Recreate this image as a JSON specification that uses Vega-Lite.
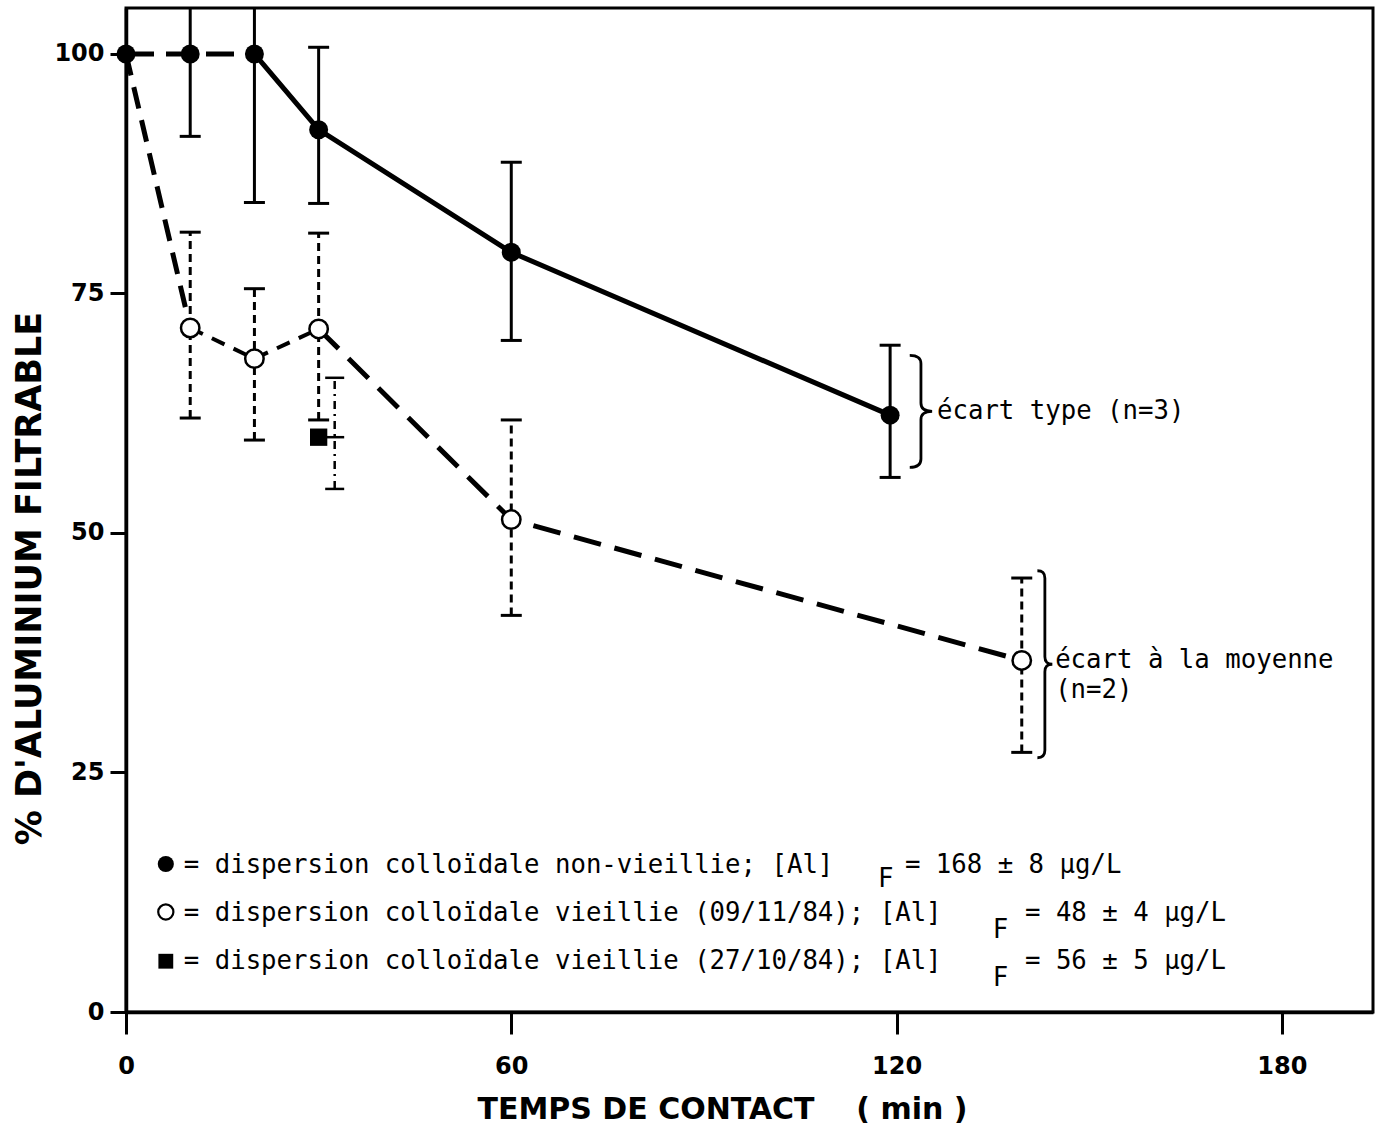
{
  "$schema": "https://vega.github.io/schema/vega-lite/v6.json",
  "width": 1247,
  "height": 1004,
  "autosize": {"type": "none"},
  "padding": {"left": 126, "top": 8, "right": 2, "bottom": 119},
  "background": "white",
  "config": {
    "view": {"stroke": "black", "strokeWidth": 3},
    "axis": {
      "grid": false,
      "domainColor": "black",
      "domainWidth": 3.5,
      "tickColor": "black",
      "tickWidth": 3,
      "labelFont": "DejaVu Sans",
      "labelFontWeight": "bold",
      "labelFontSize": 24,
      "labelColor": "black",
      "titleFont": "DejaVu Sans",
      "titleFontWeight": "bold",
      "titleColor": "black"
    }
  },
  "datasets": {
    "pts": [
      {"series": "filled", "x": 0, "y": 100},
      {"series": "filled", "x": 10, "y": 100},
      {"series": "filled", "x": 20, "y": 100},
      {"series": "filled", "x": 30, "y": 92.1},
      {"series": "filled", "x": 60, "y": 79.3},
      {"series": "filled", "x": 119, "y": 62.3},
      {"series": "open", "x": 10, "y": 71.4},
      {"series": "open", "x": 20, "y": 68.2},
      {"series": "open", "x": 30, "y": 71.3},
      {"series": "open", "x": 60, "y": 51.4},
      {"series": "open", "x": 139.5, "y": 36.7},
      {"series": "square", "x": 30, "y": 60}
    ],
    "err": [
      {"series": "filled", "x": 10, "y": 91.4, "y2": 104.8},
      {"series": "filled", "x": 20, "y": 84.5, "y2": 104.8},
      {"series": "filled", "x": 30, "y": 84.4, "y2": 100.7},
      {"series": "filled", "x": 60, "y": 70.1, "y2": 88.7},
      {"series": "filled", "x": 119, "y": 55.8, "y2": 69.6},
      {"series": "open", "x": 10, "y": 62.0, "y2": 81.4},
      {"series": "open", "x": 20, "y": 59.7, "y2": 75.5},
      {"series": "open", "x": 30, "y": 61.8, "y2": 81.3},
      {"series": "open", "x": 60, "y": 41.4, "y2": 61.8},
      {"series": "open", "x": 139.5, "y": 27.1, "y2": 45.3},
      {"series": "square", "x": 32.5, "y": 54.6, "y2": 66.2}
    ],
    "caps": [
      {"series": "filled", "x": 10, "y": 91.4},
      {"series": "filled", "x": 20, "y": 84.5},
      {"series": "filled", "x": 30, "y": 84.4},
      {"series": "filled", "x": 30, "y": 100.7},
      {"series": "filled", "x": 60, "y": 70.1},
      {"series": "filled", "x": 60, "y": 88.7},
      {"series": "filled", "x": 119, "y": 55.8},
      {"series": "filled", "x": 119, "y": 69.6},
      {"series": "open", "x": 10, "y": 62.0},
      {"series": "open", "x": 10, "y": 81.4},
      {"series": "open", "x": 20, "y": 59.7},
      {"series": "open", "x": 20, "y": 75.5},
      {"series": "open", "x": 30, "y": 61.8},
      {"series": "open", "x": 30, "y": 81.3},
      {"series": "open", "x": 60, "y": 41.4},
      {"series": "open", "x": 60, "y": 61.8},
      {"series": "open", "x": 139.5, "y": 27.1},
      {"series": "open", "x": 139.5, "y": 45.3},
      {"series": "square", "x": 32.5, "y": 54.6},
      {"series": "square", "x": 32.5, "y": 66.2},
      {"series": "square", "x": 32.5, "y": 60}
    ],
    "lines": [
      {"seg": "A", "x": 0, "y": 100},
      {"seg": "A", "x": 10, "y": 100},
      {"seg": "A", "x": 20, "y": 100},
      {"seg": "B", "x": 20, "y": 100},
      {"seg": "B", "x": 30, "y": 92.1},
      {"seg": "B", "x": 60, "y": 79.3},
      {"seg": "B", "x": 119, "y": 62.3},
      {"seg": "C", "x": 0, "y": 100},
      {"seg": "C", "x": 10, "y": 71.4},
      {"seg": "D", "x": 10, "y": 71.4},
      {"seg": "D", "x": 20, "y": 68.2},
      {"seg": "D", "x": 30, "y": 71.3},
      {"seg": "E", "x": 30, "y": 71.3},
      {"seg": "E", "x": 60, "y": 51.4},
      {"seg": "E", "x": 139.5, "y": 36.7}
    ],
    "legsym": [
      {"series": "filled", "x": 6.2, "y": 15.45},
      {"series": "open", "x": 6.2, "y": 10.44},
      {"series": "square", "x": 6.2, "y": 5.3}
    ],
    "texts": [
      {"x": 9.0, "y": 15.3, "text": "= dispersion colloïdale non-vieillie; [Al]"},
      {"x": 117.1, "y": 13.9, "text": "F"},
      {"x": 121.3, "y": 15.3, "text": "= 168 ± 8 µg/L"},
      {"x": 9.0, "y": 10.3, "text": "= dispersion colloïdale vieillie (09/11/84); [Al]"},
      {"x": 135.0, "y": 8.6, "text": "F"},
      {"x": 140.0, "y": 10.3, "text": "= 48 ± 4 µg/L"},
      {"x": 9.0, "y": 5.3, "text": "= dispersion colloïdale vieillie (27/10/84); [Al]"},
      {"x": 135.0, "y": 3.6, "text": "F"},
      {"x": 140.0, "y": 5.3, "text": "= 56 ± 5 µg/L"},
      {"x": 126.3, "y": 62.7, "text": "écart type (n=3)"},
      {"x": 144.7, "y": 36.7, "text": "écart à la moyenne"},
      {"x": 144.7, "y": 33.6, "text": "(n=2)"}
    ],
    "brace1": [{"x": 123.8, "y": 62.7}],
    "brace2": [{"x": 143.1, "y": 36.3}]
  },
  "encoding": {
    "x": {
      "field": "x",
      "type": "quantitative",
      "scale": {"domain": [0, 194.2], "nice": false, "zero": false},
      "axis": {
        "values": [0, 60, 120, 180],
        "tickSize": 22,
        "labelPadding": 20,
        "labelFlush": false,
        "title": "TEMPS  DE  CONTACT\u00a0\u00a0\u00a0\u00a0(\u00a0min\u00a0)",
        "titleFontSize": 30,
        "titlePadding": 16,
        "titleX": 596
      }
    },
    "y": {
      "field": "y",
      "type": "quantitative",
      "scale": {"domain": [0, 104.8], "nice": false, "zero": false},
      "axis": {
        "values": [0, 25, 50, 75, 100],
        "tickSize": 16,
        "labelPadding": 6,
        "title": "% D'ALUMINIUM FILTRABLE",
        "titleFontSize": 35,
        "titleX": -79,
        "titleY": 570
      }
    }
  },
  "layer": [
    {
      "data": {"name": "err"},
      "transform": [{"filter": "datum.series === 'filled'"}],
      "mark": {"type": "rule", "color": "black", "strokeWidth": 3},
      "encoding": {"y2": {"field": "y2"}}
    },
    {
      "data": {"name": "err"},
      "transform": [{"filter": "datum.series === 'open'"}],
      "mark": {"type": "rule", "color": "black", "strokeWidth": 3, "strokeDash": [8, 5]},
      "encoding": {"y2": {"field": "y2"}}
    },
    {
      "data": {"name": "err"},
      "transform": [{"filter": "datum.series === 'square'"}],
      "mark": {"type": "rule", "color": "black", "strokeWidth": 2.5, "strokeDash": [8, 5, 2, 5]},
      "encoding": {"y2": {"field": "y2"}}
    },
    {
      "data": {"name": "caps"},
      "transform": [{"filter": "datum.series !== 'square'"}],
      "mark": {"type": "tick", "orient": "horizontal", "color": "black", "size": 21, "thickness": 3, "opacity": 1}
    },
    {
      "data": {"name": "caps"},
      "transform": [{"filter": "datum.series === 'square'"}],
      "mark": {"type": "tick", "orient": "horizontal", "color": "black", "size": 19, "thickness": 2.5, "opacity": 1}
    },
    {
      "data": {"name": "lines"},
      "transform": [{"filter": "datum.seg === 'A'"}],
      "mark": {"type": "line", "color": "black", "strokeWidth": 5, "strokeDash": [28, 12]}
    },
    {
      "data": {"name": "lines"},
      "transform": [{"filter": "datum.seg === 'B'"}],
      "mark": {"type": "line", "color": "black", "strokeWidth": 5}
    },
    {
      "data": {"name": "lines"},
      "transform": [{"filter": "datum.seg === 'C'"}],
      "mark": {"type": "line", "color": "black", "strokeWidth": 5, "strokeDash": [22, 12]}
    },
    {
      "data": {"name": "lines"},
      "transform": [{"filter": "datum.seg === 'D'"}],
      "mark": {"type": "line", "color": "black", "strokeWidth": 4, "strokeDash": [14, 10]}
    },
    {
      "data": {"name": "lines"},
      "transform": [{"filter": "datum.seg === 'E'"}],
      "mark": {"type": "line", "color": "black", "strokeWidth": 5, "strokeDash": [28, 14]}
    },
    {
      "data": {"name": "pts"},
      "transform": [{"filter": "datum.series === 'filled'"}],
      "mark": {"type": "point", "shape": "circle", "filled": true, "color": "black", "size": 360, "opacity": 1}
    },
    {
      "data": {"name": "pts"},
      "transform": [{"filter": "datum.series === 'open'"}],
      "mark": {"type": "point", "shape": "circle", "filled": true, "fill": "white", "stroke": "black", "strokeWidth": 2.5, "size": 340, "opacity": 1}
    },
    {
      "data": {"name": "pts"},
      "transform": [{"filter": "datum.series === 'square'"}],
      "mark": {"type": "point", "shape": "square", "filled": true, "color": "black", "size": 300, "opacity": 1}
    },
    {
      "data": {"name": "legsym"},
      "transform": [{"filter": "datum.series === 'filled'"}],
      "mark": {"type": "point", "shape": "circle", "filled": true, "color": "black", "size": 260, "opacity": 1}
    },
    {
      "data": {"name": "legsym"},
      "transform": [{"filter": "datum.series === 'open'"}],
      "mark": {"type": "point", "shape": "circle", "filled": true, "fill": "white", "stroke": "black", "strokeWidth": 2.2, "size": 230, "opacity": 1}
    },
    {
      "data": {"name": "legsym"},
      "transform": [{"filter": "datum.series === 'square'"}],
      "mark": {"type": "point", "shape": "square", "filled": true, "color": "black", "size": 220, "opacity": 1}
    },
    {
      "data": {"name": "texts"},
      "mark": {"type": "text", "align": "left", "baseline": "middle", "font": "DejaVu Sans Mono", "fontSize": 25.7, "color": "black"},
      "encoding": {"text": {"field": "text"}}
    },
    {
      "data": {"name": "brace1"},
      "mark": {"type": "point", "shape": "M -0.2 -1 Q 0 -1 0 -0.85 L 0 -0.15 Q 0 0 0.2 0 Q 0 0 0 0.15 L 0 0.85 Q 0 1 -0.2 1", "filled": false, "stroke": "black", "strokeWidth": 2.8, "size": 12544, "opacity": 1}
    },
    {
      "data": {"name": "brace2"},
      "mark": {"type": "point", "shape": "M -0.08 -1 Q 0 -1 0 -0.92 L 0 -0.08 Q 0 0 0.08 0 Q 0 0 0 0.08 L 0 0.92 Q 0 1 -0.08 1", "filled": false, "stroke": "black", "strokeWidth": 2.8, "size": 34969, "opacity": 1}
    }
  ]
}
